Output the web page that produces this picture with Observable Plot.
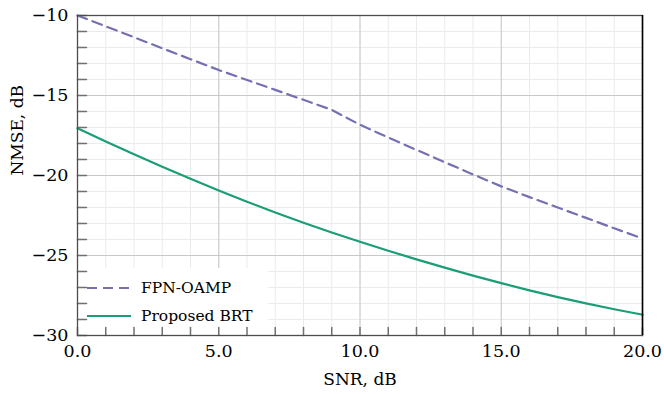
<!DOCTYPE html>
<html><head><meta charset="utf-8">
<script src="https://cdn.jsdelivr.net/npm/d3@7"></script>
<script src="https://cdn.jsdelivr.net/npm/@observablehq/plot@0.6"></script>
<style>html,body{margin:0;padding:0;background:#fff;overflow:hidden}</style>
</head><body><div id="chart"></div>
<script>
const snr = [0,1,2,3,4,5,6,7,8,9,10,11,12,13,14,15,16,17,18,19,20];
const fpnOamp = [-10.0,-10.68,-11.36,-12.05,-12.73,-13.41,-14.03,-14.65,-15.27,-15.9,-16.83,-17.62,-18.4,-19.17,-19.93,-20.68,-21.35,-22.0,-22.65,-23.3,-23.94];
const proposedBrt = [-17.05,-17.87,-18.67,-19.45,-20.21,-20.94,-21.64,-22.31,-22.95,-23.56,-24.14,-24.7,-25.24,-25.76,-26.26,-26.73,-27.18,-27.6,-27.99,-28.36,-28.7];
const seriesNames = ["FPN-OAMP", "Proposed BRT"];
const seriesColors = ["#7570b3", "#1b9e77"];
const xMajorTicks = [0,5,10,15,20];
const xTickLabels = ["0.0","5.0","10.0","15.0","20.0"];
const xMinorTicks = [0,1,2,3,4,5,6,7,8,9,10,11,12,13,14,15,16,17,18,19,20];
const yMajorTicks = [-30,-25,-20,-15,-10];
const yTickLabels = ["−30","−25","−20","−15","−10"];
const yMinorTicks = [-30,-29,-28,-27,-26,-25,-24,-23,-22,-21,-20,-19,-18,-17,-16,-15,-14,-13,-12,-11,-10];
const xLabel = "SNR, dB";
const yLabel = "NMSE, dB";

const fpnRows = snr.map((s, i) => ({snr: s, nmse: fpnOamp[i]}));
const brtRows = snr.map((s, i) => ({snr: s, nmse: proposedBrt[i]}));

const tickShape = {draw(ctx, l) { ctx.moveTo(0, 0); ctx.lineTo(0, -l); }};
const serif = "'DejaVu Serif', serif";

const chart = Plot.plot({
  width: 664, height: 394,
  marginLeft: 77, marginRight: 22, marginTop: 15, marginBottom: 59,
  x: {domain: [0, 20]},
  y: {domain: [-30, -10]},
  style: {fontFamily: serif, fontSize: "17px", background: "#fff", color: "#000"},
  marks: [
    Plot.ruleX(xMinorTicks, {stroke: "#ebebeb", strokeWidth: 1}),
    Plot.ruleY(yMinorTicks, {stroke: "#ebebeb", strokeWidth: 1}),
    Plot.ruleX(xMajorTicks, {stroke: "#c8c8c8", strokeWidth: 1}),
    Plot.ruleY(yMajorTicks, {stroke: "#c8c8c8", strokeWidth: 1}),
    Plot.line(fpnRows, {x: "snr", y: "nmse", stroke: seriesColors[0], strokeWidth: 2.2, strokeDasharray: "10,6"}),
    Plot.line(brtRows, {x: "snr", y: "nmse", stroke: seriesColors[1], strokeWidth: 2.2, curve: "monotone-x"}),
    Plot.vector(yMinorTicks, {x: () => xMajorTicks[0], y: d => d, length: 9, rotate: 90, anchor: "start", shape: tickShape, stroke: "#707070"}),
    Plot.vector(xMinorTicks, {x: d => d, y: () => yMajorTicks[0], length: 8, rotate: 0, anchor: "start", shape: tickShape, stroke: "#707070"}),
    Plot.frame({stroke: "#4d4d4d", strokeWidth: 1.3}),
    Plot.ruleX([xMajorTicks[xMajorTicks.length - 1]], {stroke: "#000", strokeWidth: 1.5}),
    Plot.axisY(yMajorTicks, {tickSize: 0, tickPadding: 9, tickFormat: (d, i) => yTickLabels[i], label: null, fontSize: 17.5}),
    Plot.axisX(xMajorTicks, {tickSize: 0, tickPadding: 9, tickFormat: (d, i) => xTickLabels[i], label: null, fontSize: 17.5}),
    Plot.text([yLabel], {frameAnchor: "left", dx: -60, rotate: -90, text: d => d, fontSize: 17}),
    Plot.text([xLabel], {frameAnchor: "bottom", dy: 49, text: d => d, fontSize: 17})
  ]
});
document.getElementById("chart").appendChild(chart);

// legend (lower-left, white box)
const firstVector = chart.querySelector("g[aria-label='vector']");
const lg = d3.select(chart.insertBefore(document.createElementNS("http://www.w3.org/2000/svg", "g"), firstVector));
lg.append("rect").attr("x", 78).attr("y", 268).attr("width", 190).attr("height", 66).attr("fill", "#fff");
const rowsY = [288, 316];
seriesNames.forEach((name, i) => {
  lg.append("line").attr("x1", 87).attr("x2", 131).attr("y1", rowsY[i]).attr("y2", rowsY[i])
    .attr("stroke", seriesColors[i]).attr("stroke-width", 2.2)
    .attr("stroke-dasharray", i === 0 ? "10,6" : null);
  lg.append("text").attr("x", 141).attr("y", rowsY[i]).attr("dy", "0.35em")
    .attr("text-anchor", "start")
    .attr("font-size", 15.5).attr("font-family", serif).attr("fill", "#000")
    .text(name);
});
</script>
</body></html>
